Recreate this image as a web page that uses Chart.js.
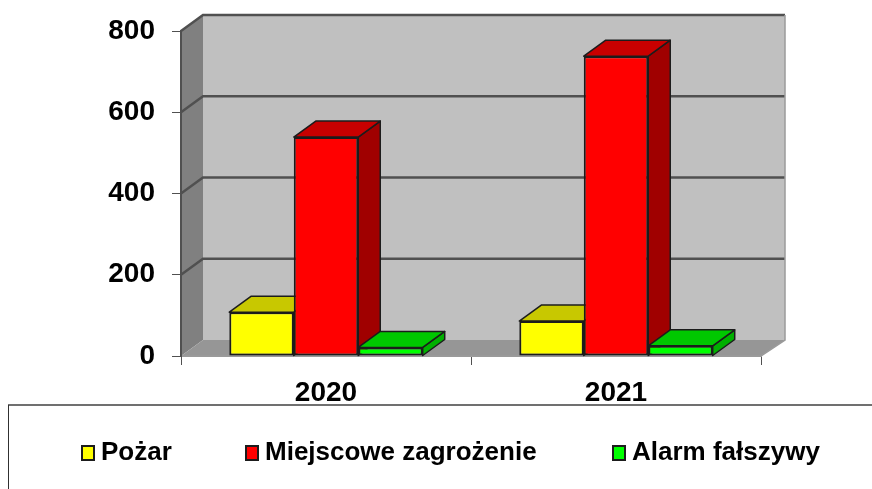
<!DOCTYPE html>
<html>
<head>
<meta charset="utf-8">
<style>
    html, body { margin: 0; padding: 0; background: #fff; }
    #wrap { width: 872px; height: 489px; }
</style>
<script src="https://cdn.jsdelivr.net/npm/chart.js@4"></script>
</head>
<body>
<div id="wrap"><canvas id="chart"></canvas></div>
<script>
const categories = ['2020', '2021'];
const seriesNames = ['Pożar', 'Miejscowe zagrożenie', 'Alarm fałszywy'];
const pozar = [108, 86];
const miejscowe = [539, 738];
const alarm = [21, 25];
const yTicks = [0, 200, 400, 600, 800];

// front, top and side colours of the fake 3D boxes
const fronts = ['#FFFF00', '#FF0000', '#00FF00'];
const tops = ['#C8C800', '#C80000', '#00C800'];
const sides = ['#A0A000', '#A00000', '#00B000'];

const AXIS_FONT = { family: '"Liberation Sans", Arial, sans-serif', size: 28, weight: 'bold' };
const LEGEND_FONT = 'bold 26px "Liberation Sans", Arial, sans-serif';
const LINE = '#505050';
const OUTLINE = '#1c1c1c';

function poly(ctx, pts, fill, stroke, width) {
    ctx.beginPath();
    pts.forEach((p, i) => i ? ctx.lineTo(p[0], p[1]) : ctx.moveTo(p[0], p[1]));
    ctx.closePath();
    if (fill) { ctx.fillStyle = fill; ctx.fill(); }
    if (stroke) { ctx.strokeStyle = stroke; ctx.lineWidth = width; ctx.stroke(); }
}

// walls and floor behind the bars, gridlines follow the y scale
const wallsPlugin = {
    id: 'walls',
    beforeDraw(chart) {
        const { ctx, chartArea: a, scales } = chart;
        const dx = 22, dy = 16, rightDx = 24;
        ctx.save();
        poly(ctx, [[a.left + dx, a.top - dy], [a.right + rightDx, a.top - dy], [a.right + rightDx, a.bottom - dy], [a.left + dx, a.bottom - dy]], '#C0C0C0');
        poly(ctx, [[a.left, a.top], [a.left + dx, a.top - dy], [a.left + dx, a.bottom - dy], [a.left, a.bottom]], '#808080');
        poly(ctx, [[a.left, a.bottom], [a.left + dx, a.bottom - dy], [a.right + rightDx, a.bottom - dy], [a.right, a.bottom]], '#969696');
        ctx.strokeStyle = LINE;
        ctx.lineWidth = 2.5;
        yTicks.forEach(v => {
            if (v === 0) return;
            const y = scales.y.getPixelForValue(v);
            ctx.beginPath();
            ctx.moveTo(a.left, y);
            ctx.lineTo(a.left + dx, y - dy);
            ctx.lineTo(a.right + rightDx, y - dy);
            ctx.stroke();
        });
        // thin edges of the floor and right side
        ctx.strokeStyle = '#9a9a9a';
        ctx.lineWidth = 1.5;
        ctx.beginPath();
        ctx.moveTo(a.left, a.bottom);
        ctx.lineTo(a.right, a.bottom);
        ctx.lineTo(a.right + rightDx, a.bottom - dy);
        ctx.lineTo(a.right + rightDx, a.top - dy);
        ctx.stroke();
        ctx.restore();
    },
    // top and side of each box, left to right; the library paints the fronts over them afterwards
    beforeDatasetsDraw(chart) {
        const { ctx } = chart;
        const dx = 22, dy = 16;
        ctx.save();
        ctx.lineJoin = 'round';
        seriesNames.forEach((name, i) => {
            chart.getDatasetMeta(i).data.forEach(bar => {
                const l = bar.x - bar.width / 2, r = bar.x + bar.width / 2;
                poly(ctx, [[r, bar.y], [r + dx, bar.y - dy], [r + dx, bar.base - dy], [r, bar.base]], sides[i], OUTLINE, 1.5);
                poly(ctx, [[l, bar.y], [l + dx, bar.y - dy], [r + dx, bar.y - dy], [r, bar.y]], tops[i], OUTLINE, 1.5);
            });
        });
        ctx.restore();
    }
};

// legend sits in a box cut off on the right and bottom, spacing is too wide for the built in one
const legendBoxPlugin = {
    id: 'legendBox',
    afterDraw(chart) {
        const { ctx, width, height } = chart;
        const startX = [81, 245, 612];
        ctx.save();
        ctx.strokeStyle = '#707070';
        ctx.lineWidth = 2;
        ctx.beginPath();
        ctx.moveTo(width, 405);
        ctx.lineTo(8, 405);
        ctx.stroke();
        ctx.strokeStyle = '#303030';
        ctx.lineWidth = 1;
        ctx.beginPath();
        ctx.moveTo(8.5, 405);
        ctx.lineTo(8.5, height);
        ctx.stroke();

        ctx.font = LEGEND_FONT;
        ctx.textBaseline = 'middle';
        seriesNames.forEach((name, i) => {
            ctx.fillStyle = OUTLINE;
            ctx.fillRect(startX[i], 445, 14, 16);
            ctx.fillStyle = fronts[i];
            ctx.fillRect(startX[i] + 2, 447, 10, 12);
            ctx.fillStyle = '#000';
            ctx.fillText(name, startX[i] + 20, 453);
        });
        ctx.restore();
    }
};

const seriesValues = [pozar, miejscowe, alarm];

new Chart(document.getElementById('chart'), {
    type: 'bar',
    data: {
        labels: categories,
        datasets: seriesNames.map((name, i) => ({
            label: name,
            data: seriesValues[i],
            backgroundColor: fronts[i],
            borderColor: OUTLINE,
            borderWidth: 2,
            borderSkipped: false
        }))
    },
    options: {
        responsive: true,
        maintainAspectRatio: false,
        animation: false,
        layout: { padding: { top: 31, right: 111, left: 0, bottom: 0 } },
        datasets: { bar: { categoryPercentage: 0.667, barPercentage: 1 } },
        plugins: { legend: { display: false }, title: { display: false }, tooltip: { enabled: false } },
        scales: {
            x: {
                afterFit(scale) { scale.height = 133; },
                grid: { drawOnChartArea: false, tickLength: 9, color: LINE, offset: true },
                border: { color: '#9a9a9a' },
                ticks: { color: '#000', font: AXIS_FONT, padding: 11, maxRotation: 0 }
            },
            y: {
                min: 0,
                max: 800,
                // tick padding would otherwise push the chart area down
                afterFit(scale) { scale.width = 181; scale.paddingTop = 0; scale.paddingBottom = 0; },
                afterBuildTicks(scale) { scale.ticks = yTicks.map(v => ({ value: v })); },
                grid: { drawOnChartArea: false, tickLength: 9, color: LINE },
                border: { color: LINE, width: 2 },
                ticks: { color: '#000', font: AXIS_FONT, padding: 17 }
            }
        }
    },
    plugins: [wallsPlugin, legendBoxPlugin]
});
</script>
</body>
</html>
